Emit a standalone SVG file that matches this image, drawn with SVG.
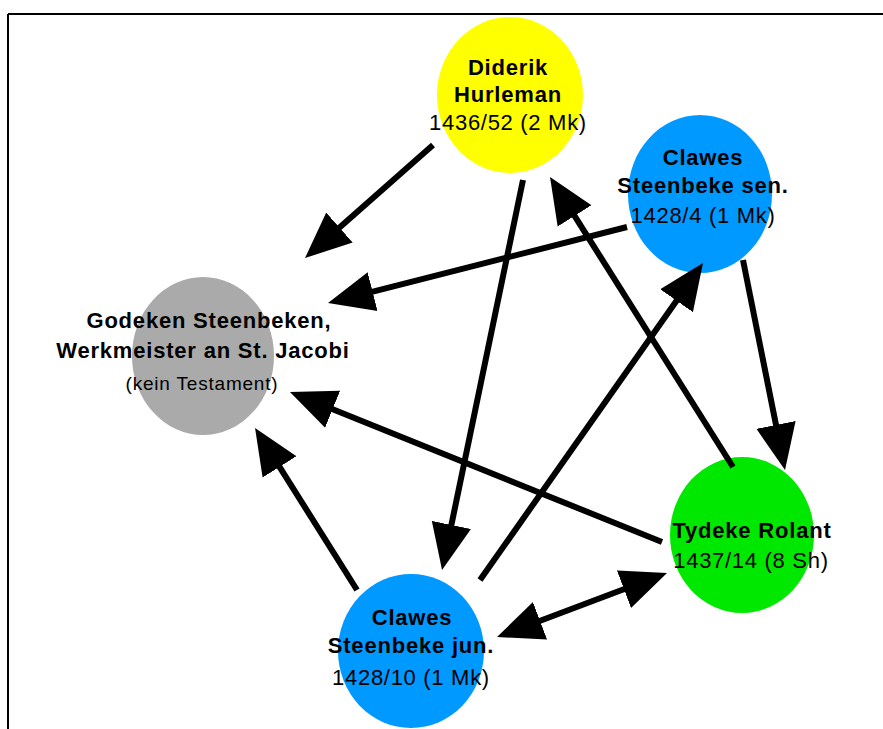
<svg xmlns="http://www.w3.org/2000/svg" width="883" height="729" viewBox="0 0 883 729">
<style>
.b{font-family:"Liberation Sans",Arial,sans-serif;font-weight:bold;font-size:22px;letter-spacing:0.8px;fill:#000;text-anchor:middle}
.r{font-family:"Liberation Sans",Arial,sans-serif;font-size:22px;letter-spacing:0.7px;fill:#000;text-anchor:middle}
.s{font-family:"Liberation Sans",Arial,sans-serif;font-size:19px;letter-spacing:0.8px;fill:#000;text-anchor:middle}
.e{stroke:#000;stroke-width:6;fill:none;marker-end:url(#ah)}
</style>
<defs>
<marker id="ah" markerUnits="userSpaceOnUse" markerWidth="48" markerHeight="42" viewBox="0 0 48 42" refX="26" refY="21" orient="auto-start-reverse">
<path d="M0,1 L46,21 L0,41 z" fill="#000"/>
</marker>
</defs>
<rect width="883" height="729" fill="#fff"/>
<g id="frame" stroke="#000" stroke-width="2">
<line x1="8" y1="14" x2="883" y2="14"/>
<line x1="8" y1="14" x2="8" y2="729"/>
</g>
<g id="node-hurleman">
<ellipse cx="510" cy="95" rx="73" ry="78" fill="#ffff00"/>
<text class="b" x="508" y="75">Diderik</text>
<text class="b" x="508" y="102">Hurleman</text>
<text class="r" x="508" y="130">1436/52 (2 Mk)</text>
</g>
<g id="node-sen">
<ellipse cx="700" cy="194" rx="72" ry="79" fill="#0099ff"/>
<text class="b" x="703" y="165">Clawes</text>
<text class="b" x="703" y="193">Steenbeke sen.</text>
<text class="r" x="703" y="223">1428/4 (1 Mk)</text>
</g>
<g id="node-godeken">
<ellipse cx="203" cy="356" rx="71" ry="79" fill="#aaaaaa"/>
<text class="b" x="209" y="328">Godeken Steenbeken,</text>
<text class="b" x="203" y="358">Werkmeister an St. Jacobi</text>
<text class="s" x="202" y="390">(kein Testament)</text>
</g>
<g id="node-rolant">
<ellipse cx="742" cy="535" rx="72" ry="78" fill="#00e800"/>
<text class="b" x="752" y="538">Tydeke Rolant</text>
<text class="r" x="751" y="568">1437/14 (8 Sh)</text>
</g>
<g id="node-jun">
<ellipse cx="411" cy="651" rx="73" ry="77" fill="#0099ff"/>
<text class="b" x="412" y="625">Clawes</text>
<text class="b" x="411" y="653">Steenbeke jun.</text>
<text class="r" x="411" y="685">1428/10 (1 Mk)</text>
</g>
<g id="connectors">
<line class="e" x1="433" y1="145" x2="320" y2="244.8"/>
<line class="e" x1="523" y1="180" x2="446.1" y2="550.4"/>
<line class="e" x1="733" y1="467" x2="560.7" y2="193.9"/>
<line class="e" x1="627" y1="227" x2="347.4" y2="298.1"/>
<line class="e" x1="743" y1="260" x2="781.1" y2="450.4"/>
<line class="e" x1="480" y1="580" x2="691.5" y2="279.4"/>
<line class="e" x1="662" y1="542" x2="308.5" y2="399.5"/>
<line class="e" x1="357" y1="590" x2="265.7" y2="444.9"/>
<line class="e" style="marker-start:url(#ah)" x1="515.7" y1="630" x2="648.3" y2="580"/>
</g>
</svg>
